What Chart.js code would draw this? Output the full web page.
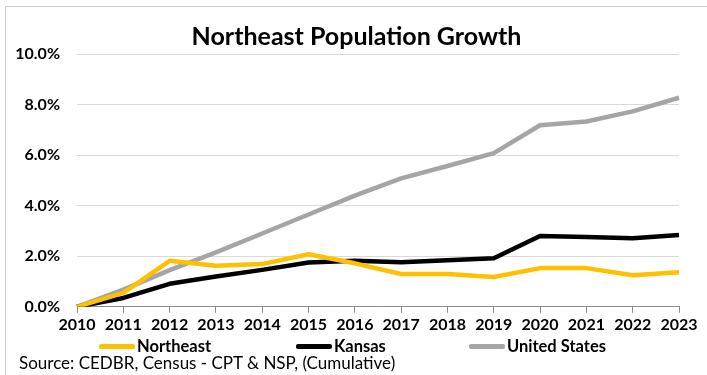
<!DOCTYPE html>
<html>
<head>
<meta charset="utf-8">
<script src="https://cdn.jsdelivr.net/npm/chart.js@4/dist/chart.umd.min.js"></script>
<style>
  html, body { margin: 0; padding: 0; background: #ffffff; }
  #wrap { position: relative; width: 707px; height: 375px; font-family: Lato, 'Open Sans', sans-serif; }
  #frame { position: absolute; left: 5px; top: 6px; width: 702px; height: 369px;
           border-top: 1px solid #cfcfcf; border-left: 1px solid #cfcfcf; pointer-events: none; }
  #title { position: absolute; left: 0; top: 20px; width: 713px; text-align: center;
           font-weight: bold; font-size: 25px; line-height: 30px; color: #000; white-space: nowrap; }
  .leg { position: absolute; top: 336px; height: 20px; display: flex; align-items: center;
         font-weight: bold; font-size: 16.5px; color: #000; white-space: nowrap; }
  .leg .sw { width: 36px; height: 5px; margin-right: 2px; border-radius: 2px; }
  #source { position: absolute; left: 19px; top: 352px; font-size: 17px; color: #000; white-space: nowrap; }
</style>
</head>
<body>
<div id="wrap">
  <canvas id="c" width="707" height="375"></canvas>
  <div id="title"></div>
  <div id="legend"></div>
  <div id="source"></div>
  <div id="frame"></div>
</div>
<script>
const years = ['2010','2011','2012','2013','2014','2015','2016','2017','2018','2019','2020','2021','2022','2023'];
const northeast = [0, 0.55, 1.82, 1.62, 1.69, 2.08, 1.72, 1.30, 1.30, 1.18, 1.53, 1.53, 1.25, 1.37];
const kansas    = [0, 0.35, 0.91, 1.20, 1.46, 1.75, 1.82, 1.76, 1.84, 1.92, 2.80, 2.76, 2.71, 2.84];
const unitedStates = [0, 0.68, 1.45, 2.15, 2.90, 3.65, 4.40, 5.08, 5.57, 6.08, 7.18, 7.33, 7.73, 8.27];
const yTicks = [0, 2, 4, 6, 8, 10];
const seriesNames = ['Northeast', 'Kansas', 'United States'];
const seriesColors = ['#FFC000', '#000000', '#A5A5A5'];
const titleText = 'Northeast Population Growth';
const sourceText = 'Source: CEDBR, Census - CPT & NSP, (Cumulative)';

const FONT = "Lato, 'Open Sans', sans-serif";
const seriesData = [northeast, kansas, unitedStates];

const chart = new Chart(document.getElementById('c'), {
  type: 'line',
  data: {
    labels: years,
    datasets: seriesNames.map((name, i) => ({
      label: name, data: seriesData[i], borderColor: seriesColors[i], backgroundColor: seriesColors[i]
    }))
  },
  options: {
    responsive: false,
    animation: false,
    devicePixelRatio: 1,
    elements: {
      line: { borderWidth: 4.5, tension: 0, borderCapStyle: 'butt', borderJoinStyle: 'round' },
      point: { radius: 0, hoverRadius: 0 }
    },
    layout: { padding: { left: 10, right: 28, top: 54, bottom: 39 } },
    plugins: {
      title: { display: false },
      legend: { display: false },
      tooltip: { enabled: false }
    },
    scales: {
      x: {
        offset: false,
        grid: { display: true, drawOnChartArea: false, drawTicks: true, tickLength: 6, color: '#8c8c8c' },
        border: { display: true, color: '#8c8c8c', width: 1 },
        ticks: {
          color: '#000',
          font: { family: FONT, size: 16, weight: 'bold' },
          padding: 2,
          maxRotation: 0,
          autoSkip: false
        }
      },
      y: {
        min: 0,
        max: 10,
        afterBuildTicks(axis) { axis.ticks = yTicks.map(v => ({ value: v })); },
        afterFit(axis) { axis.width = 67; },
        grid: { color: '#d9d9d9', lineWidth: 1, drawTicks: false },
        border: { display: false },
        ticks: {
          color: '#000',
          font: { family: FONT, size: 16, weight: 'bold' },
          padding: 17,
          callback: v => Number(v).toFixed(1) + '%'
        }
      }
    }
  }
});

document.getElementById('title').textContent = titleText;

// HTML legend
const legendLefts = [99, 296, 469];
const legendEl = document.getElementById('legend');
seriesNames.forEach((name, i) => {
  const item = document.createElement('div');
  item.className = 'leg';
  item.style.left = legendLefts[i] + 'px';
  const sw = document.createElement('span');
  sw.className = 'sw';
  sw.style.background = seriesColors[i];
  const tx = document.createElement('span');
  tx.textContent = name;
  item.appendChild(sw);
  item.appendChild(tx);
  legendEl.appendChild(item);
});
document.getElementById('source').textContent = sourceText;
</script>
</body>
</html>
